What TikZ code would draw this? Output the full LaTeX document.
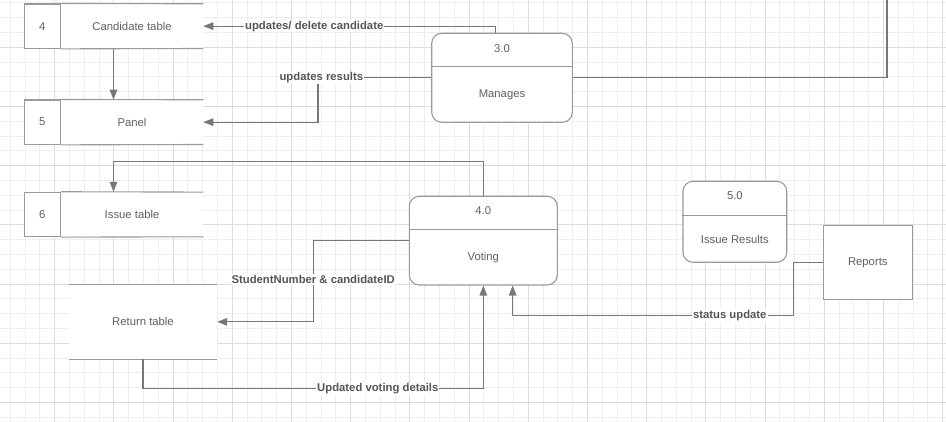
\documentclass[tikz,border=0pt]{standalone}
\usepackage{fontspec}
\setmainfont{Liberation Sans}
\usepackage{tikz}
\usetikzlibrary{arrows.meta}
\usetikzlibrary{positioning}
\usetikzlibrary{calc}

\definecolor{gridminor}{HTML}{EEEEEE}
\definecolor{gridmajor}{HTML}{DCDCDC}
\definecolor{boxline}{HTML}{9A9A9A}
\definecolor{flowline}{HTML}{777777}
\definecolor{boxtext}{HTML}{606060}
\definecolor{flowtext}{HTML}{555555}

\newcommand\dfdfont{\fontsize{11.3pt}{13pt}\selectfont}

\tikzset{
  minorgrid/.style={draw=gridminor, line width=0.9pt},
  majorgrid/.style={draw=gridmajor, line width=0.9pt},
  storenum/.style={draw=boxline, line width=1.1pt, fill=white, inner sep=0pt,
    minimum width=36pt, minimum height=44.3pt, text=boxtext, font=\dfdfont},
  storename/.style={fill=white, inner sep=0pt, minimum width=142pt,
    minimum height=44.3pt, text=boxtext, font=\dfdfont},
  storeline/.style={draw=boxline, line width=1.1pt},
  proc/.style={draw=boxline, line width=1.1pt, fill=white, rounded corners=10pt,
    inner sep=0pt},
  proctext/.style={inner sep=0pt, text=boxtext, font=\dfdfont},
  entity/.style={draw=boxline, line width=1.1pt, fill=white, inner sep=0pt,
    text=boxtext, font=\dfdfont},
  link/.style={draw=flowline, line width=1.1pt},
  flow/.style={link, -{Triangle[length=10pt,width=7.5pt]}},
  flowlabel/.style={fill=white, inner sep=1pt, text=flowtext,
    font=\dfdfont\bfseries},
}

\begin{document}
\begin{tikzpicture}[x=1pt, y=-1pt]
  \useasboundingbox (0,0) rectangle (946,422);
  \fill[white] (0,0) rectangle (946,422);

  % grid
  \foreach \i in {0,...,63}
    \draw[minorgrid] ({10.3+14.8*\i},0) -- ({10.3+14.8*\i},422);
  \foreach \i in {0,...,28}
    \draw[minorgrid] (0,{2.9+14.8*\i}) -- (946,{2.9+14.8*\i});
  \foreach \i in {0,...,15}
    \draw[majorgrid] ({54.7+59.2*\i},0) -- ({54.7+59.2*\i},422);
  \foreach \i in {0,...,6}
    \draw[majorgrid] (0,{47.3+59.2*\i}) -- (946,{47.3+59.2*\i});

  % data stores
  \node[storenum] (s4) at (42.3,26.15) {4};
  \node[storename, right=0pt of s4] (cand) {Candidate table};
  \draw[storeline] (s4.north east) -- (cand.north east)
                   (s4.south east) -- (cand.south east);

  \node[storenum, below=50.6pt of s4] (s5) {5};
  \node[storename, right=0pt of s5] (panel) {Panel};
  \draw[storeline] (s5.north east) -- (panel.north east)
                   (s5.south east) -- (panel.south east);

  \node[storenum, below=46.9pt of s5] (s6) {6};
  \node[storename, right=0pt of s6] (issue) {Issue table};
  \draw[storeline] (s6.north east) -- (issue.north east)
                   (s6.south east) -- (issue.south east);

  \node[storename, minimum width=148pt, minimum height=74.3pt] (ret) at (143,321.85) {Return table};
  \draw[storeline] (ret.north west) -- (ret.north east)
                   (ret.south west) -- (ret.south east);

  % processes
  \node[proc, minimum width=140.6pt, minimum height=89pt] (p3) at (502,77.8) {};
  \node[proctext] (p3id) at ([yshift=-15.5pt]p3.north) {3.0};
  \node[proctext] (p3name) at ($(p3.south)!0.5!([yshift=-34pt]p3.north)$) {Manages};
  \draw[storeline] ([yshift=-34pt]p3.north west) -- ([yshift=-34pt]p3.north east);

  \node[proc, minimum width=148pt, minimum height=88.7pt] (p4) at (483.3,240.65) {};
  \node[proctext] (p4id) at ([yshift=-15pt]p4.north) {4.0};
  \node[proctext] (p4name) at ($(p4.south)!0.5!([yshift=-34pt]p4.north)$) {Voting};
  \draw[storeline] ([yshift=-34pt]p4.north west) -- ([yshift=-34pt]p4.north east);

  \node[proc, minimum width=103.7pt, minimum height=81pt] (p5) at (734.85,221.8) {};
  \node[proctext] (p5id) at ([yshift=-15pt]p5.north) {5.0};
  \node[proctext] (p5name) at ($(p5.south)!0.5!([yshift=-34.4pt]p5.north)$) {Issue Results};
  \draw[storeline] ([yshift=-34.4pt]p5.north west) -- ([yshift=-34.4pt]p5.north east);

  % external entity
  \node[entity, minimum width=89pt, minimum height=73.6pt] (rep) at (867.8,262.5) {Reports};

  % flows
  \coordinate (off) at (887,0);
  \draw[flow] ([xshift=-6.7pt]p3.north) |- node[flowlabel, pos=0.81] {updates/ delete candidate} (cand.east);
  \draw[flow] (p3.west) -| node[flowlabel, pos=0.485] {updates results} ([xshift=114.7pt]panel.east) -- (panel.east);
  \draw[link] (p3.east) -| (off);
  \draw[flow] ($(s4.south west)!0.5!(cand.south east)$) -- ($(s5.north west)!0.5!(panel.north east)$);
  \draw[flow] (p4.north) -- ++(0,-34) -| ($(s6.north west)!0.5!(issue.north east)$);
  \draw[flow] (p4.west) -| node[flowlabel, pos=0.74] {StudentNumber \& candidateID} ([xshift=96pt]ret.east) -- (ret.east);
  \draw[flow] (ret.south) -- ++(0,29.7) -| node[flowlabel, pos=0.345] {Updated voting details} (p4.south);
  \draw[flow] (rep.west) -- ++(-29.6,0) |- node[flowlabel, pos=0.613] {status update} ([xshift=29.4pt,yshift=-29.7pt]p4.south) -- ([xshift=29.4pt]p4.south);
\end{tikzpicture}
\end{document}
